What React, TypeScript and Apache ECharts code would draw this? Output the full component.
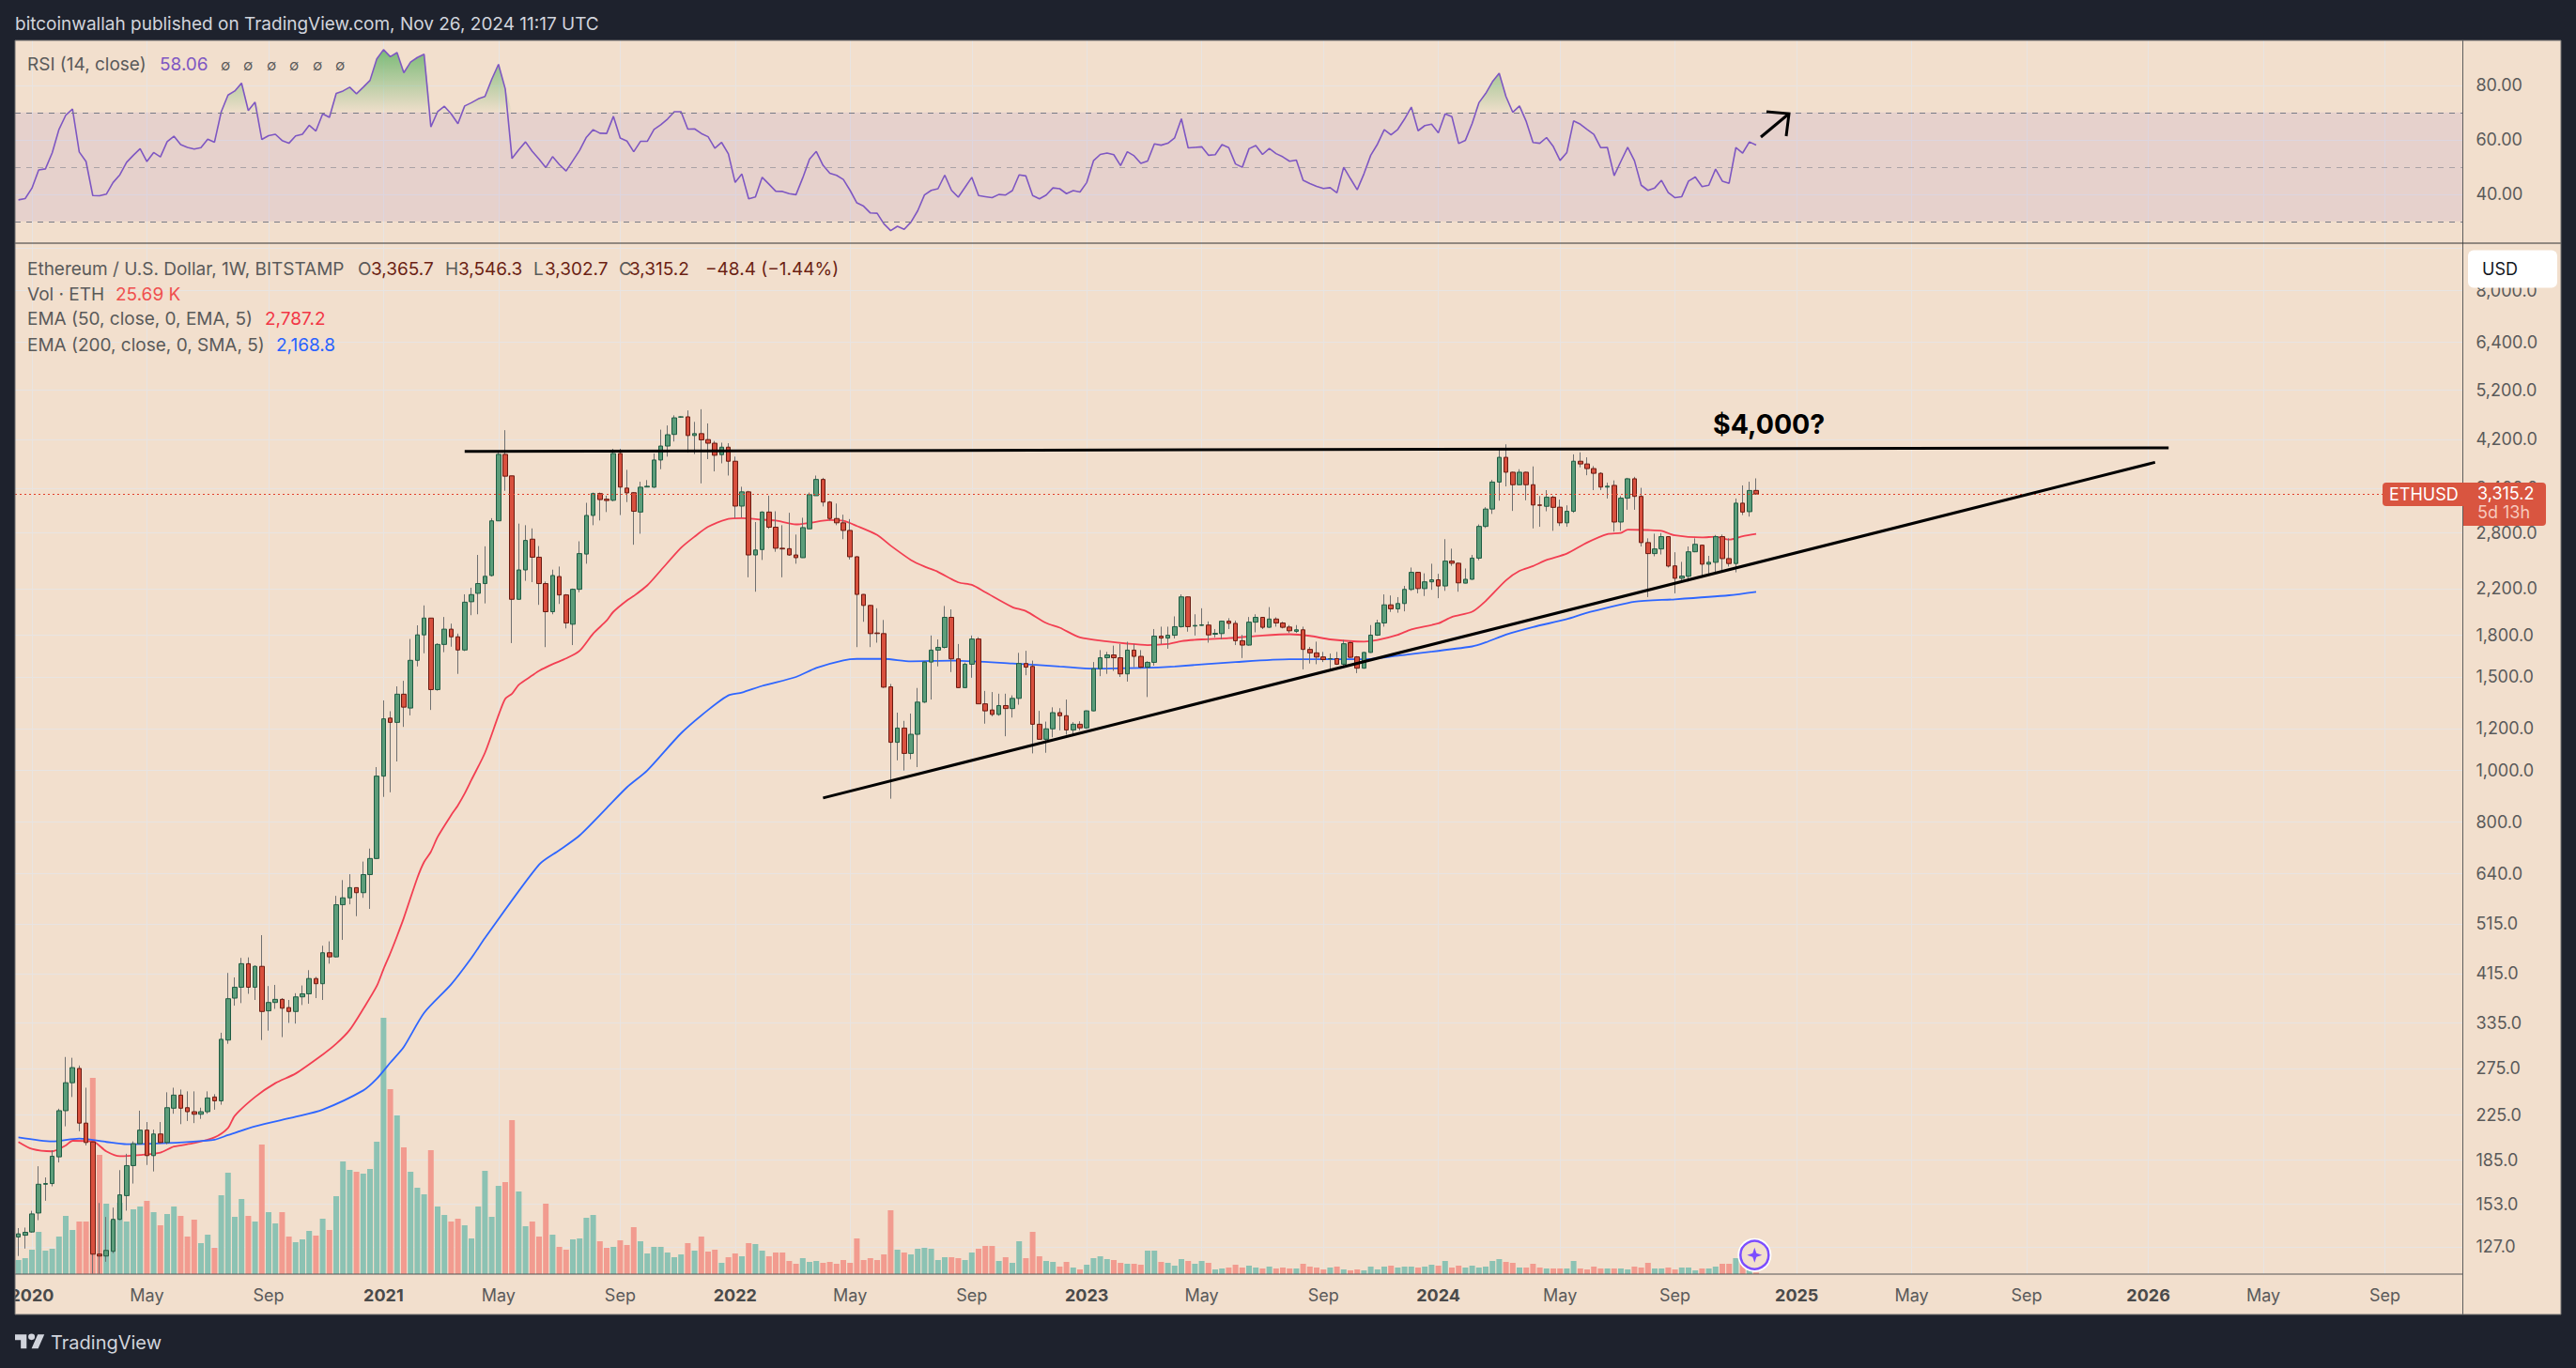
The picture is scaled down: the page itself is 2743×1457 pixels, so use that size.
import React, { useEffect, useRef } from "react";
import * as echarts from "echarts";

const FONT = "Inter";
const START_MONDAY = Date.UTC(2019, 11, 23);
const WEEK_COUNT = 362;
const categories: string[] = Array.from({ length: WEEK_COUNT }, (_, k) =>
  new Date(START_MONDAY + k * 7 * 86400000).toISOString().slice(0, 10)
);

const timeTickDates = ["2020-01-06","2020-05-04","2020-09-07","2021-01-04","2021-05-03","2021-09-06","2022-01-03","2022-05-02","2022-09-05","2023-01-02","2023-05-01","2023-09-04","2024-01-01","2024-05-06","2024-09-02","2025-01-06","2025-05-05","2025-09-01","2026-01-05","2026-05-04","2026-09-07"];
const timeTickLabels = ["2020","May","Sep","2021","May","Sep","2022","May","Sep","2023","May","Sep","2024","May","Sep","2025","May","Sep","2026","May","Sep"];
const priceTicks = [8000,6400,5200,4200,3400,2800,2200,1800,1500,1200,1000,800,640,515,415,335,275,225,185,153,127];
const priceGridOnly = [9600];
const rsiTicks = [40,60,80];

const opens = [132.5,133.5,135.4,147,166.5,167,187.5,229,258.5,275,
217,200,123,122,124.5,143,158.5,180.5,198.5,210.5,
188.5,207,199.5,231.5,245,232,228,225.5,228,243,
239,311,373,391,433,391,428,353,366,371,
358,352,375,380,406,397,454,446,559,576,
602,589,637,683,976,1255,1232,1392,1311,1612,
1800,1936,1420,1727,1845,1785,1686,2078,2155,2248,
2328,2950,3935,3585,2100,2385,2725,2520,2248,1990,
2318,2140,1885,2193,2555,3020,3320,3240,3225,3950,
3400,3333,3065,3416,3413,3840,4080,4290,4625,4630,
4270,4305,4195,4130,3930,4060,3820,3145,3345,2545,
2605,3065,2870,2620,2615,2545,2515,2850,3290,3530,
3200,2980,2925,2830,2525,2145,2045,1815,1810,1437,
1130,1202,1077,1170,1345,1600,1685,1705,1942,1622,
1432,1585,1768,1335,1300,1275,1325,1308,1367,1590,
1570,1222,1145,1198,1285,1268,1192,1222,1203,1295,
1555,1630,1650,1630,1520,1685,1640,1565,1598,1790,
1775,1797,1865,2122,1870,1875,1878,1805,1810,1910,
1892,1755,1722,1902,1942,1860,1928,1895,1862,1828,
1840,1690,1665,1636,1622,1624,1585,1740,1636,1558,
1668,1798,1895,2050,2015,2062,2192,2360,2200,2265,
2285,2225,2478,2455,2252,2290,2510,2880,3105,3490,
3885,3642,3450,3642,3450,3160,3142,3268,3130,2925,
3075,3820,3775,3700,3625,3415,3440,2935,3255,3540,
3280,2685,2560,2612,2755,2427,2300,2320,2580,2655,
2445,2465,2755,2505,2452,3185,3070,3365.7];
const highs = [137.7,138,148.4,180,171.5,193,231,289,288,278.5,
253,200.5,153.5,144.5,150.5,177,190,200.5,229,218,
211,218,248,253,251,249,249,232,249,246,
321,416,408,444,445,430,490,393,395,373,
370,381,394,421,409,468,477,581,622,638,
602,674,713,1015,1355,1293,1440,1475,1768,1876,
2045,1936,1736,1945,1890,1810,2146,2208,2545,2642,
2985,3980,4370,3585,2915,2895,2855,2645,2268,2388,
2420,2148,2200,2700,3190,3335,3335,3290,4030,4030,
3680,3340,3495,3520,3950,4380,4460,4660,4640,4760,
4530,4785,4500,4170,4140,4130,3897,3420,3360,2935,
3075,3290,3075,2895,3055,2780,2990,3335,3590,3555,
3215,3180,3030,2973,2530,2148,2050,2020,1920,1455,
1285,1240,1280,1430,1605,1795,1765,2040,2010,1730,
1596,1795,1782,1412,1405,1395,1395,1385,1665,1680,
1610,1295,1236,1315,1310,1360,1233,1238,1298,1600,
1685,1672,1718,1730,1747,1730,1685,1606,1846,1865,
1865,1950,2145,2125,1968,2020,1908,1846,1915,1935,
1915,1800,1945,1968,1945,2030,1942,1905,1878,1878,
1865,1708,1748,1672,1660,1672,1760,1752,1642,1672,
1878,1922,2145,2135,2120,2225,2410,2365,2350,2450,
2345,2725,2615,2465,2400,2545,2905,3130,3522,4030,
4110,3650,3690,3650,3735,3285,3370,3290,3235,3155,
3935,3970,3885,3740,3642,3480,3515,3285,3555,3570,
3404,2735,2790,2798,2760,2575,2470,2640,2735,2660,
2535,2775,2780,2735,3250,3440,3495,3546.3];
const lows = [122,126,135,142.5,155,165,183,214,243,209.5,
197,113,113,119,123.5,142.5,148.5,167,198,181,
176,198.5,198,226,216,219,217,221,226,230,
235,306,361,365,380,370,311,324,356,315,
335,334,362,364,373,370,433,445,480,560,
532,576,549,681,892,910,1040,1208,1270,1570,
1662,1300,1413,1670,1710,1520,1678,1960,1968,2063,
2318,2947,3360,1737,2100,2275,2262,2050,1707,1968,
2058,1851,1722,2165,2450,2895,2955,3065,3210,3025,
3200,2660,2790,3413,3404,3690,3897,4160,4610,3965,
3940,3470,3855,3655,3785,3590,2985,2995,2310,2170,
2490,2850,2580,2310,2535,2450,2513,2845,3290,3140,
2955,2895,2725,2495,1707,1905,1707,1740,1430,885,
1045,1000,1050,1015,1340,1360,1570,1697,1532,1430,
1430,1495,1333,1225,1265,1268,1160,1258,1330,1511,
1077,1145,1080,1155,1190,1168,1160,1190,1198,1293,
1505,1520,1540,1500,1470,1565,1555,1375,1575,1730,
1695,1772,1857,1825,1795,1872,1740,1780,1765,1846,
1722,1628,1718,1820,1846,1857,1865,1851,1815,1815,
1550,1590,1585,1600,1538,1580,1575,1628,1525,1555,
1665,1792,1865,1988,1981,1993,2178,2155,2130,2188,
2110,2178,2427,2170,2250,2285,2487,2860,3040,3220,
3425,3080,3440,3225,2855,2875,3075,2825,2885,2875,
3055,3720,3595,3370,3370,3250,2815,2825,3095,3095,
2640,2120,2530,2550,2410,2155,2280,2268,2575,2320,
2335,2345,2375,2420,2360,3025,3005,3302.7];
const closes = [134.3,135.2,146.4,166.5,167,188,229,258.5,276,217,
199.5,123,122,125,143,159,180.5,198.5,210.5,188.5,
207,199.5,232,245,231.5,228,225.5,228,242,239,
312,372,391,433,391,428,352,366,371,357,
352,375,380,406,397,454,446,559,576,602,
589,637,683,976,1251,1232,1392,1316,1612,1800,
1936,1420,1727,1845,1785,1686,2074,2143,2248,2320,
2950,3935,3580,2100,2385,2710,2520,2248,1990,2328,
2140,1895,2193,2560,3020,3320,3235,3222,3950,3415,
3330,3075,3413,3427,3840,4080,4285,4610,4630,4270,
4305,4190,4130,3920,4060,3820,3145,3345,2545,2600,
3065,2870,2620,2612,2545,2515,2865,3305,3530,3200,
2980,2925,2830,2525,2145,2045,1810,1810,1435,1130,
1202,1077,1170,1345,1600,1685,1705,1942,1622,1432,
1585,1768,1335,1295,1275,1325,1308,1367,1590,1565,
1222,1145,1198,1285,1268,1192,1222,1203,1295,1555,
1630,1650,1630,1520,1685,1640,1565,1598,1790,1775,
1797,1865,2122,1865,1875,1880,1800,1812,1910,1892,
1755,1722,1902,1942,1860,1928,1895,1860,1832,1840,
1690,1665,1635,1617,1624,1585,1732,1633,1558,1668,
1798,1895,2050,2015,2062,2192,2360,2200,2265,2285,
2225,2478,2455,2255,2290,2510,2880,3105,3490,3885,
3642,3450,3642,3450,3160,3155,3268,3128,2925,3075,
3820,3775,3700,3625,3415,3428,2935,3255,3540,3280,
2685,2560,2612,2755,2425,2300,2322,2580,2665,2445,
2465,2755,2505,2452,3185,3065,3365,3315.2];
const volumesK = [225,255,390,675,375,405,600,930,705,840,
840,3135,1905,1125,855,1140,840,1035,1080,1170,
990,780,960,1080,930,600,870,495,630,420,
1260,1620,915,1200,930,840,2070,990,810,990,
600,510,555,690,615,885,705,1245,1800,1665,
1635,1605,1680,2115,4095,2955,2535,2025,1635,1380,
1275,1980,1080,945,840,885,780,570,1080,1650,
915,1410,1470,2460,1320,765,840,600,1125,630,
435,390,555,570,900,945,525,420,435,540,
465,750,525,330,435,435,345,270,315,495,
375,600,360,390,180,270,330,285,495,480,
375,285,345,345,210,165,255,195,210,180,
195,165,225,180,570,225,255,225,315,1020,
390,345,315,405,420,405,225,270,270,255,
225,345,405,450,450,210,270,180,525,255,
675,285,210,195,120,195,105,75,150,255,
285,240,225,180,165,165,150,375,375,195,
180,135,240,210,165,210,180,75,90,105,
150,105,135,105,90,120,90,105,90,90,
165,120,105,75,105,120,75,60,75,60,
120,75,120,135,105,120,120,105,120,150,
135,210,105,135,105,135,105,120,210,240,
195,180,105,105,165,105,90,90,90,90,
210,90,75,120,90,90,90,90,75,120,
105,180,90,90,105,75,105,105,60,90,
90,120,165,165,255,195,60,25.69];
const rsiValues = [37.9,38.4,42.2,48.9,49.3,55.2,63.8,69,71.3,55.5,
52,39.5,39.4,40,44.3,47.1,51.7,54.3,56.7,52,
55.3,53.7,59.3,61.3,58.2,57.2,56.6,57.1,60.2,59.1,
70.3,76.4,77.9,80.8,70.7,73.8,60.1,61.5,62,59.7,
58.7,61.4,62,65.3,63.2,69.5,68.2,77,77.9,79.3,
76.9,79.3,81.8,89.7,93.1,90.5,92,84.6,88.5,90.2,
91.4,64.7,70.3,72.3,69.5,65.9,72.4,73.6,75,75.9,
82.2,87.7,78.7,53.1,56.3,59.2,55.7,52.9,49.8,53.8,
50.9,48.5,52.3,56.1,60.9,63.7,62.4,62.3,68.6,60.6,
59.5,55.6,59.4,59.4,63.8,65.5,67.6,70.3,70.3,63.9,
64,62.3,61.1,56.9,59,54.8,44.3,47.4,38.3,39,
46.2,43.7,41.1,41,40.2,39.8,46,52.9,55.7,50.6,
47.7,46.9,45.4,41.4,36.8,35.6,33.1,33,29.1,26.6,
28.2,27.1,29.7,33.9,39.7,41.4,42,47,41.4,38.9,
42.5,46.2,39.5,39.1,38.7,39.9,39.7,41.3,47.1,46.7,
39.5,38.3,39.7,42.3,42,40.2,41.3,40.8,44.3,52.3,
54.6,55.1,54.5,50.5,55.6,54.1,51.3,52.2,58.5,58,
58.7,60.7,67.7,57,57.2,57.4,54.3,54.5,58.2,57.1,
51.1,49.9,56.7,57.9,54.6,56.8,54.9,53.7,52.1,52.5,
45.1,43.9,42.9,42.1,42.4,40.5,49.9,45.7,41.6,47.5,
54.3,58.4,63.7,61.8,63.8,67.6,72,63.3,65.2,65.7,
62.5,69.5,68.5,58.6,59.8,66,73.6,77,81.3,84.4,
75.9,70.1,72.4,66.7,59,58.7,60.8,57.5,52.4,55.3,
66.9,65.7,63.8,62,57.1,57.2,46.8,52.1,57.2,52.3,
43.3,41.4,42.3,45.1,40.6,38.7,39.1,44.8,46.3,42.8,
43.3,49.2,44.8,44,57.1,55.1,59.2,58.06];

const ema50Weeks = [0,2,5,7,8,11,13,15,18,21,23,26,29,31,32,35,38,41,45,47,49,51,53,54,55,56,57,59,60,61,62,64,65,66,67,69,71,72,73,74,76,77,79,81,83,85,87,88,90,91,93,95,98,100,102,105,107,110,112,115,117,120,122,124,127,129,132,134,136,139,141,143,147,149,152,154,157,161,164,167,170,172,175,179,184,188,191,194,199,201,204,206,210,212,215,217,220,222,224,226,229,232,235,237,238,241,243,245,249,251,253,255,257];
const ema50Values = [200,194,192,197,201,200.5,192,188,189,191,196,199,204,212.5,224,243,258,269,292,306,325,356,393,423,453,488,528,628,673,703,750,824,860,905,960,1080,1270,1365,1395,1450,1510,1540,1585,1625,1680,1810,1915,1990,2090,2130,2230,2380,2625,2755,2875,2975,2985,2965,2955,2905,2925,2960,2950,2885,2775,2650,2490,2420,2365,2260,2235,2165,2030,1995,1895,1857,1780,1750,1733,1722,1730,1752,1765,1775,1795,1805,1792,1765,1748,1760,1800,1843,1892,1945,1990,2085,2280,2375,2425,2490,2560,2685,2785,2800,2840,2835,2825,2770,2745,2755,2720,2760,2787.2];
const ema200Weeks = [0,5,9,13,16,22,29,31,35,41,45,51,53,55,57,60,64,67,69,77,80,83,87,90,93,98,102,105,107,110,115,118,122,124,128,132,138,147,154,159,166,171,180,188,199,204,215,217,220,224,229,232,239,245,253,257];
const ema200Values = [204,200.5,203,200,198,199,202,206,214,223,230,250,263,282,302,350,396,444,484,665,708,755,850,930,1000,1175,1300,1385,1402,1443,1500,1560,1612,1622,1622,1605,1610,1590,1570,1555,1560,1570,1600,1620,1620,1645,1712,1742,1802,1862,1927,1981,2078,2100,2137,2168.8];

// Hand-drawn annotations on the price pane: [week index, price]
const resistanceLine = [[66, 3987], [318, 4048]];
const supportLine = [[119, 888], [316, 3802]];
const lastPrice = 3315.2;

const fmtPrice = (v: number) =>
  v.toLocaleString("en-US", { minimumFractionDigits: 1, maximumFractionDigits: 1 });

const UP = "#5c9d7a";
const UP_B = "#1f5c43";
const DOWN = "#d8503e";
const DOWN_B = "#6b1a10";
const WICK = "#707070";
const BG = "#f2dfcd";
const GRIDC = "#e8e4e2";
const DARK = "#1e222d";
const TXT = "#5a5a5a";

echarts.graphic.registerShape(
  "tvlogo",
  echarts.graphic.extendPath("M14 22H7V11H0V4h14v18zM28 22h-8l7.5-18h8L28 22zM24 7a4 4 0 1 1-8 0a4 4 0 1 1 8 0z", {})
);

const txt = (text: string, x: number, y: number, fill: string, size = 19, weight: any = 400) => ({
  type: "text",
  x,
  y,
  z: 45,
  silent: true,
  style: { text, fill, font: `${weight} ${size}px ${FONT}`, textVerticalAlign: "middle", verticalAlign: "middle" },
});

export default function App() {
  const ref = useRef<HTMLDivElement>(null);
  useEffect(() => {
    document.body.style.margin = "0";
    document.body.style.background = DARK;
    const chart = echarts.init(ref.current!, undefined, { renderer: "svg" });

    const isTick = (_i: number, v: string) => timeTickDates.includes(v);
    const xBase = {
      type: "category",
      data: categories,
      boundaryGap: true,
      axisLine: { show: false },
      axisTick: { show: false, alignWithLabel: true, interval: isTick },
      splitLine: { show: true, alignWithLabel: true, interval: isTick, lineStyle: { color: GRIDC, width: 1 } },
    };

    const wickData = opens.map((o, k) => [o, closes[k], lows[k], highs[k]]);
    const bodyData = opens.map((o, k) => [o, closes[k], Math.min(o, closes[k]), Math.max(o, closes[k])]);

    const arrow = (points: number[][]) => ({
      type: "polyline",
      z: 45,
      silent: true,
      shape: { points },
      style: { stroke: "#000", lineWidth: 3, fill: null, lineCap: "butt" },
    });

    const option: any = {
      animation: false,
      backgroundColor: DARK,
      textStyle: { fontFamily: FONT },
      grid: [
        { left: 16, width: 2606.4, top: 43, height: 216, containLabel: false },
        { left: 16, width: 2606.4, top: 259, height: 1098, containLabel: false },
      ],
      xAxis: [
        { ...xBase, gridIndex: 0, axisLabel: { show: false } },
        {
          ...xBase,
          gridIndex: 1,
          axisLabel: {
            show: true,
            interval: isTick,
            margin: 13,
            fontFamily: FONT,
            fontSize: 18,
            color: TXT,
            hideOverlap: false,
            formatter: (v: string) => {
              const lab = timeTickLabels[timeTickDates.indexOf(v)];
              return /^\d/.test(lab) ? `{y|${lab}}` : lab;
            },
            rich: { y: { fontFamily: FONT, fontSize: 18, fontWeight: 700, color: "#4a4a4a" } },
          },
        },
      ],
      yAxis: [
        {
          type: "value",
          gridIndex: 0,
          position: "right",
          min: 22,
          max: 96.5,
          axisLine: { show: false },
          axisTick: { show: false, customValues: rsiTicks },
          splitLine: { show: true, lineStyle: { color: GRIDC, width: 1 } },
          axisLabel: {
            customValues: rsiTicks,
            margin: 14,
            padding: [0, 0, 2, 0],
            fontFamily: FONT,
            fontSize: 18,
            color: TXT,
            formatter: (v: number) => Number(v).toFixed(2),
          },
        },
        {
          type: "log",
          logBase: 10,
          gridIndex: 1,
          position: "right",
          min: 112.8,
          max: 9826,
          axisLine: { show: false },
          axisTick: { show: false, customValues: priceGridOnly.concat(priceTicks) },
          minorTick: { show: false },
          splitLine: { show: true, lineStyle: { color: GRIDC, width: 1 } },
          axisLabel: {
            customValues: priceTicks,
            margin: 14,
            padding: [0, 0, 4, 0],
            fontFamily: FONT,
            fontSize: 18,
            color: TXT,
            formatter: (v: number) => fmtPrice(Number(v)),
          },
        },
        {
          type: "value",
          gridIndex: 1,
          show: false,
          min: 0,
          max: 16470,
          splitLine: { show: false },
        },
      ],
      series: [
        {
          name: "RSI overbought",
          type: "line",
          xAxisIndex: 0,
          yAxisIndex: 0,
          z: 2,
          silent: true,
          symbol: "none",
          lineStyle: { width: 0 },
          data: rsiValues.map((v) => Math.max(v, 70)),
          areaStyle: {
            origin: 70,
            opacity: 1,
            color: {
              type: "linear",
              x: 0,
              y: 50,
              x2: 0,
              y2: 120,
              global: true,
              colorStops: [
                { offset: 0, color: "rgba(96,178,100,0.85)" },
                { offset: 1, color: "rgba(96,178,100,0.02)" },
              ],
            },
          },
        },
        {
          name: "RSI",
          type: "line",
          xAxisIndex: 0,
          yAxisIndex: 0,
          z: 3,
          silent: true,
          symbol: "none",
          lineStyle: { color: "#7e57c2", width: 1.6 },
          data: rsiValues,
          markArea: {
            silent: true,
            itemStyle: { color: "rgba(126,87,194,0.1)" },
            data: [[{ yAxis: 70 }, { yAxis: 30 }]],
          },
          markLine: {
            silent: true,
            symbol: "none",
            label: { show: false },
            data: [
              { yAxis: 70, lineStyle: { color: "#787b86", type: [6, 6], width: 1.2 } },
              { yAxis: 50, lineStyle: { color: "rgba(120,123,134,0.55)", type: [6, 6], width: 1.2 } },
              { yAxis: 30, lineStyle: { color: "#787b86", type: [6, 6], width: 1.2 } },
            ],
          },
        },
        {
          name: "Vol",
          type: "bar",
          xAxisIndex: 1,
          yAxisIndex: 2,
          z: 1,
          silent: true,
          barWidth: 6,
          data: volumesK.map((v, k) => ({
            value: v,
            itemStyle: { color: closes[k] >= opens[k] ? "#8cc2b3" : "#f29b8f" },
          })),
        },
        {
          name: "EMA 50",
          type: "line",
          xAxisIndex: 1,
          yAxisIndex: 1,
          z: 2,
          silent: true,
          symbol: "none",
          smooth: 0.25,
          lineStyle: { color: "#f23f52", width: 1.8 },
          data: ema50Weeks.map((w, k) => [w, ema50Values[k]]),
        },
        {
          name: "EMA 200",
          type: "line",
          xAxisIndex: 1,
          yAxisIndex: 1,
          z: 2,
          silent: true,
          symbol: "none",
          smooth: 0.25,
          lineStyle: { color: "#2e66ff", width: 1.8 },
          data: ema200Weeks.map((w, k) => [w, ema200Values[k]]),
        },
        {
          name: "Wicks",
          type: "candlestick",
          xAxisIndex: 1,
          yAxisIndex: 1,
          z: 3,
          silent: true,
          barWidth: 1,
          itemStyle: { color: WICK, color0: WICK, borderColor: WICK, borderColor0: WICK, borderColorDoji: WICK, borderWidth: 1 },
          data: wickData,
        },
        {
          name: "ETHUSD",
          type: "candlestick",
          xAxisIndex: 1,
          yAxisIndex: 1,
          z: 4,
          silent: true,
          barWidth: 5,
          itemStyle: { color: UP, color0: DOWN, borderColor: UP_B, borderColor0: DOWN_B, borderColorDoji: DOWN_B, borderWidth: 1 },
          data: bodyData,
          markLine: {
            silent: true,
            symbol: "none",
            label: { show: false },
            data: [{ yAxis: lastPrice, lineStyle: { color: "#e2402a", type: [2, 3], width: 1.2, opacity: 1 } }],
          },
        },
        {
          name: "Resistance",
          type: "line",
          xAxisIndex: 1,
          yAxisIndex: 1,
          z: 6,
          silent: true,
          symbol: "none",
          lineStyle: { color: "#000", width: 3 },
          data: resistanceLine,
        },
        {
          name: "Support",
          type: "line",
          xAxisIndex: 1,
          yAxisIndex: 1,
          z: 6,
          silent: true,
          symbol: "none",
          lineStyle: { color: "#000", width: 3 },
          data: supportLine,
        },
      ],
      graphic: {
        elements: [
          { type: "rect", z: -100, silent: true, shape: { x: 16, y: 43, width: 2711, height: 1357 }, style: { fill: BG } },
          // left dark band clips the cut-off 2020 label
          { type: "rect", z: 50, silent: true, shape: { x: 0, y: 1360, width: 16, height: 40 }, style: { fill: DARK } },
          { type: "rect", z: 51, silent: true, shape: { x: 16, y: 43, width: 2711, height: 1357 }, style: { fill: null, stroke: "#6e6e6e", lineWidth: 1 } },
          { type: "line", z: 40, silent: true, shape: { x1: 2622.5, y1: 43, x2: 2622.5, y2: 1400 }, style: { stroke: "#5c5c5c", lineWidth: 1 } },
          { type: "line", z: 40, silent: true, shape: { x1: 16, y1: 259, x2: 2727, y2: 259 }, style: { stroke: "#333", lineWidth: 1 } },
          { type: "line", z: 40, silent: true, shape: { x1: 16, y1: 1357, x2: 2622, y2: 1357 }, style: { stroke: "#555", lineWidth: 1 } },
          { type: "rect", z: 41, silent: true, shape: { x: 2623.5, y: 260, width: 103, height: 8 }, style: { fill: BG } },
          { type: "rect", z: 42, silent: true, shape: { x: 2628, y: 266.5, width: 95, height: 40, r: 6 }, style: { fill: "#fff" } },
          txt("USD", 2643, 286, "#131722", 18),

          txt("bitcoinwallah published on TradingView.com, Nov 26, 2024 11:17 UTC", 16, 25, "#d1d4dc"),
          { type: "tvlogo", z: 45, silent: true, x: 16, y: 1418, scaleX: 0.88, scaleY: 0.83, style: { fill: "#d1d4dc" } },
          txt("TradingView", 54, 1430, "#d1d4dc", 20),

          txt("RSI (14, close)", 29, 68, TXT),
          txt("58.06", 170, 68, "#7e57c2"),
          ...[240, 264, 289, 313, 338, 362].map((x) => txt("∅", x - 5, 69, TXT, 15)),

          txt("Ethereum / U.S. Dollar, 1W, BITSTAMP", 29, 286, TXT),
          txt("O", 381, 286, TXT),
          txt("3,365.7", 395, 286, "#6b1f14"),
          txt("H", 474, 286, TXT),
          txt("3,546.3", 488, 286, "#6b1f14"),
          txt("L", 568, 286, TXT),
          txt("3,302.7", 580, 286, "#6b1f14"),
          txt("C", 659, 286, TXT),
          txt("3,315.2", 670, 286, "#6b1f14"),
          txt("−48.4 (−1.44%)", 751, 286, "#6b1f14"),
          txt("Vol · ETH", 29, 313, TXT),
          txt("25.69 K", 123, 313, "#ef4f4f"),
          txt("EMA (50, close, 0, EMA, 5)", 29, 339, TXT),
          txt("2,787.2", 282, 339, "#f23645"),
          txt("EMA (200, close, 0, SMA, 5)", 29, 367, TXT),
          txt("2,168.8", 294, 367, "#2962ff"),

          txt("$4,000?", 1824, 451, "#000", 28.5, 700),
          arrow([[1875, 146], [1905, 121]]),
          arrow([[1881, 119], [1905, 121], [1902, 145]]),

          { type: "rect", z: 43, silent: true, shape: { x: 2537, y: 514, width: 86, height: 25, r: [4, 0, 0, 4] }, style: { fill: "#d95540" } },
          { type: "rect", z: 43, silent: true, shape: { x: 2623, y: 514, width: 88, height: 46, r: [0, 4, 4, 0] }, style: { fill: "#d95540" } },
          txt("ETHUSD", 2544, 526, "#fff", 18),
          txt("3,315.2", 2638, 525, "#fff", 18),
          txt("5d 13h", 2638, 545.5, "#f7c8bd", 18),

          { type: "circle", z: 46, silent: true, shape: { cx: 1868.3, cy: 1336.7, r: 18 }, style: { fill: "#fff" } },
          { type: "circle", z: 47, silent: true, shape: { cx: 1868.3, cy: 1336.7, r: 15 }, style: { fill: BG, stroke: "#7c4dff", lineWidth: 2.5 } },
          {
            type: "polygon",
            z: 48,
            silent: true,
            shape: {
              points: [
                [1868.3, 1328.7],
                [1870.3, 1334.7],
                [1876.3, 1336.7],
                [1870.3, 1338.7],
                [1868.3, 1344.7],
                [1866.3, 1338.7],
                [1860.3, 1336.7],
                [1866.3, 1334.7],
              ],
            },
            style: { fill: "#7c4dff" },
          },
        ],
      },
    };
    chart.setOption(option);
    return () => chart.dispose();
  }, []);
  return <div ref={ref} style={{ position: "absolute", left: 0, top: 0, width: 2743, height: 1457 }} />;
}
